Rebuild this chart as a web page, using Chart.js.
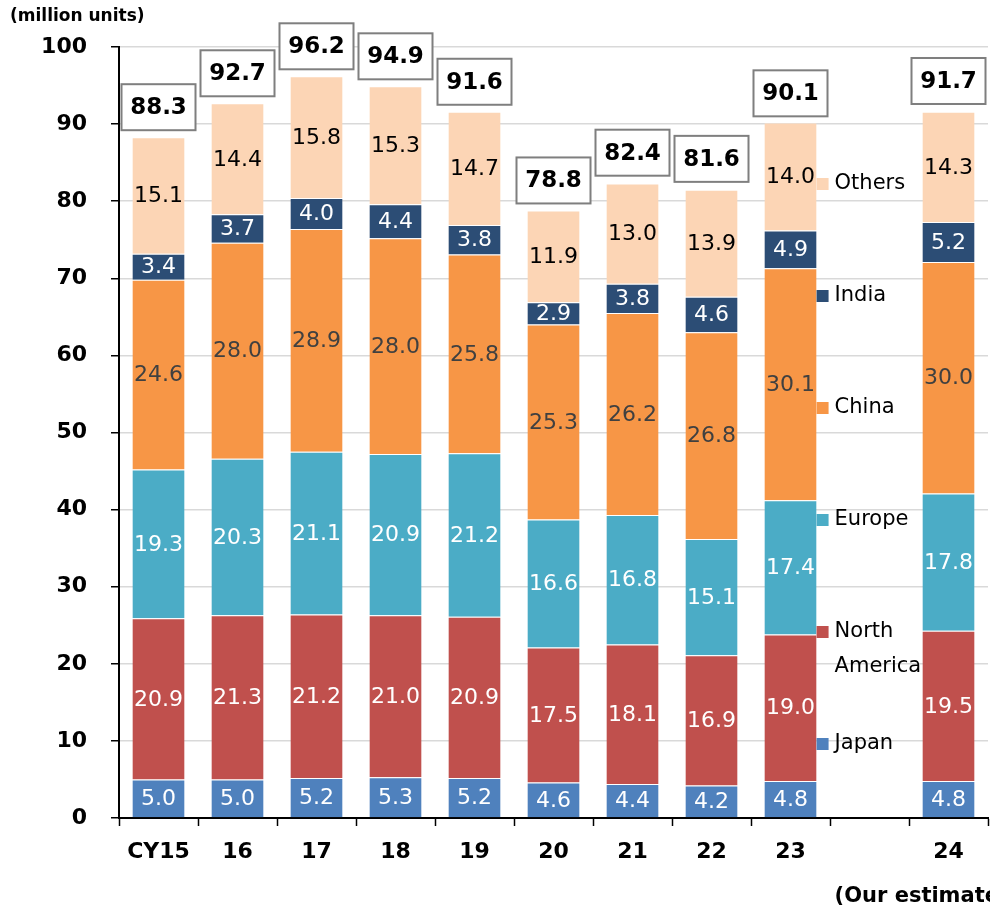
<!DOCTYPE html>
<html>
<head>
<meta charset="utf-8">
<script src="https://cdn.jsdelivr.net/npm/chart.js@4.4.1/dist/chart.umd.min.js"></script>
<style>
  body { margin: 0; background: #fff; }
  canvas { display: block; }
</style>
</head>
<body>
<canvas id="chart" width="990" height="910"></canvas>
<script>
// category 9 is an empty slot that holds the legend
const categories = ["CY15", "16", "17", "18", "19", "20", "21", "22", "23", "", "24"]
const japan = [5.0, 5.0, 5.2, 5.3, 5.2, 4.6, 4.4, 4.2, 4.8, null, 4.8]
const northAmerica = [20.9, 21.3, 21.2, 21.0, 20.9, 17.5, 18.1, 16.9, 19.0, null, 19.5]
const europe = [19.3, 20.3, 21.1, 20.9, 21.2, 16.6, 16.8, 15.1, 17.4, null, 17.8]
const china = [24.6, 28.0, 28.9, 28.0, 25.8, 25.3, 26.2, 26.8, 30.1, null, 30.0]
const india = [3.4, 3.7, 4.0, 4.4, 3.8, 2.9, 3.8, 4.6, 4.9, null, 5.2]
const others = [15.1, 14.4, 15.8, 15.3, 14.7, 11.9, 13.0, 13.9, 14.0, null, 14.3]
const totals = [88.3, 92.7, 96.2, 94.9, 91.6, 78.8, 82.4, 81.6, 90.1, null, 91.7]
const yTicks = [0, 10, 20, 30, 40, 50, 60, 70, 80, 90, 100]

const FONT = "'DejaVu Sans', Verdana, sans-serif"

const series = [
    { label: "Japan", data: japan, color: "#4f81bd", text: "#ffffff", legend: ["Japan"] },
    { label: "North America", data: northAmerica, color: "#c0504d", text: "#ffffff", legend: ["North", "America"] },
    { label: "Europe", data: europe, color: "#4bacc6", text: "#ffffff", legend: ["Europe"] },
    { label: "China", data: china, color: "#f79646", text: "#404040", legend: ["China"] },
    { label: "India", data: india, color: "#2c4d75", text: "#ffffff", legend: ["India"] },
    { label: "Others", data: others, color: "#fcd5b5", text: "#000000", legend: ["Others"] }
]

// numbers inside each segment
const segmentLabels = {
    id: "segmentLabels",
    afterDatasetsDraw(chart) {
        const ctx = chart.ctx
        ctx.save()
        ctx.font = "22px " + FONT
        ctx.textAlign = "center"
        ctx.textBaseline = "middle"
        chart.data.datasets.forEach((ds, i) => {
            const meta = chart.getDatasetMeta(i)
            meta.data.forEach((bar, j) => {
                const v = ds.data[j]
                if (v == null) return
                ctx.fillStyle = series[i].text
                ctx.fillText(v.toFixed(1), bar.x, (bar.y + bar.base) / 2 + 1)
            })
        })
        ctx.restore()
    }
}

// boxed totals above each bar
const totalBoxes = {
    id: "totalBoxes",
    afterDatasetsDraw(chart) {
        const ctx = chart.ctx
        const y = chart.scales.y
        const meta = chart.getDatasetMeta(0)
        ctx.save()
        ctx.font = "bold 23px " + FONT
        ctx.textAlign = "center"
        ctx.textBaseline = "middle"
        totals.forEach((t, j) => {
            if (t == null) return
            const cx = meta.data[j].x
            const top = y.getPixelForValue(t)
            const w = 74, h = 46
            const bx = cx - w / 2, by = top - 7 - h
            ctx.fillStyle = "#ffffff"
            ctx.fillRect(bx, by, w, h)
            ctx.strokeStyle = "#7f7f7f"
            ctx.lineWidth = 2
            ctx.strokeRect(bx, by, w, h)
            ctx.fillStyle = "#000000"
            ctx.fillText(t.toFixed(1), cx, by + h / 2 + 1)
        })
        ctx.restore()
    }
}

// legend in the empty slot, plus the two notes
const sideLegend = {
    id: "sideLegend",
    afterDraw(chart) {
        const ctx = chart.ctx
        const area = chart.chartArea
        const bar = chart.getDatasetMeta(0).data[8]
        const mx = bar.x + bar.width / 2
        ctx.save()
        ctx.font = "21px " + FONT
        ctx.textBaseline = "middle"
        ctx.textAlign = "left"
        const order = series.slice().reverse()
        order.forEach((s, k) => {
            const ly = area.top + 137 + k * 112
            ctx.fillStyle = s.color
            ctx.fillRect(mx, ly - 6, 12, 12)
            ctx.fillStyle = "#000000"
            s.legend.forEach((line, n) => {
                ctx.fillText(line, mx + 18, ly + n * 35)
            })
        })
        ctx.font = "bold 17px " + FONT
        ctx.fillText("(million units)", 10, 17)
        ctx.font = "bold 21px " + FONT
        ctx.fillText("(Our estimate)", mx + 18, 897)
        ctx.restore()
    }
}

new Chart(
    document.getElementById("chart"),
    {
        type: "bar",
        data: {
            labels: categories,
            datasets: series.map(s => ({
                label: s.label,
                data: s.data,
                backgroundColor: s.color,
                borderColor: "rgba(255,255,255,0.5)",
                borderWidth: { top: 1 },
                borderSkipped: false,
                barPercentage: 0.66,
                categoryPercentage: 1
            }))
        },
        options: {
            responsive: false,
            animation: false,
            layout: { padding: { top: 47, right: 2, left: 0, bottom: 0 } },
            plugins: {
                legend: { display: false },
                tooltip: { enabled: false }
            },
            scales: {
                x: {
                    stacked: true,
                    afterFit(scale) { scale.height = 92 },
                    grid: {
                        offset: true,
                        drawOnChartArea: false,
                        tickLength: 8,
                        tickColor: "#000000",
                        tickWidth: 1.5
                    },
                    border: { color: "#000000", width: 2 },
                    ticks: {
                        color: "#000000",
                        padding: 13,
                        font: { family: FONT, size: 22, weight: "bold" }
                    }
                },
                y: {
                    stacked: true,
                    min: 0,
                    max: 100,
                    afterFit(scale) { scale.width = 119 },
                    afterBuildTicks(scale) { scale.ticks = yTicks.map(v => ({ value: v })) },
                    grid: {
                        color: "#d9d9d9",
                        lineWidth: 1.5,
                        tickLength: 8,
                        tickColor: "#000000",
                        tickWidth: 1.5
                    },
                    border: { color: "#000000", width: 2 },
                    ticks: {
                        color: "#000000",
                        padding: 24,
                        font: { family: FONT, size: 22, weight: "bold" }
                    }
                }
            }
        },
        plugins: [segmentLabels, totalBoxes, sideLegend]
    }
)
</script>
</body>
</html>
